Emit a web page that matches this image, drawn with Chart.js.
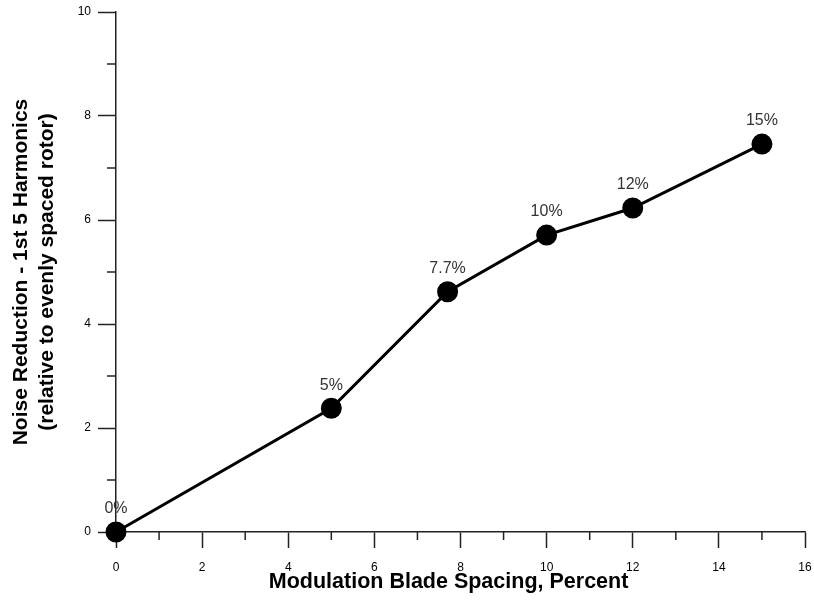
<!DOCTYPE html>
<html>
<head>
<meta charset="utf-8">
<script src="https://cdn.jsdelivr.net/npm/chart.js@4/dist/chart.umd.min.js"></script>
<style>
html,body{margin:0;padding:0;background:#fff;}
canvas{display:block;}
</style>
</head>
<body>
<canvas id="c" width="814" height="601"></canvas>
<script>
// Data
const spacingPercent = [0, 5, 7.7, 10, 12, 15];
const noiseReduction = [0, 2.38, 4.62, 5.71, 6.23, 7.46];
const pointLabels = ['0%', '5%', '7.7%', '10%', '12%', '15%'];
const minorXTicks = [1, 3, 5, 7, 9, 11, 13, 15];
const minorYTicks = [1, 3, 5, 7, 9];
const xTitle = 'Modulation Blade Spacing, Percent';
const yTitle = ['Noise Reduction - 1st 5 Harmonics', '(relative to evenly spaced rotor)'];

const FONT = "'Liberation Sans', Arial, Helvetica, sans-serif";
const AXIS_COLOR = '#222';

const minorTicksPlugin = {
  id: 'minorTicks',
  afterDraw(chart) {
    const {ctx, scales: {x, y}} = chart;
    ctx.save();
    ctx.strokeStyle = AXIS_COLOR;
    ctx.lineWidth = 1.5;
    ctx.beginPath();
    minorXTicks.forEach(v => {
      const px = x.getPixelForValue(v);
      ctx.moveTo(px, x.top);
      ctx.lineTo(px, x.top + 8);
    });
    minorYTicks.forEach(v => {
      const py = y.getPixelForValue(v);
      ctx.moveTo(y.right, py);
      ctx.lineTo(y.right - 9, py);
    });
    ctx.stroke();
    ctx.restore();
  }
};

const pointLabelPlugin = {
  id: 'pointLabels',
  afterDatasetsDraw(chart) {
    const {ctx} = chart;
    const meta = chart.getDatasetMeta(0);
    ctx.save();
    ctx.font = '16px ' + FONT;
    ctx.fillStyle = '#333';
    ctx.textAlign = 'center';
    ctx.textBaseline = 'middle';
    meta.data.forEach((pt, i) => {
      ctx.fillText(pointLabels[i], pt.x, pt.y - 23);
    });
    ctx.restore();
  }
};

new Chart(document.getElementById('c'), {
  type: 'scatter',
  data: {
    datasets: [{
      data: spacingPercent.map((v, i) => ({x: v, y: noiseReduction[i]})),
      showLine: true,
      borderColor: '#000',
      borderWidth: 3,
      backgroundColor: '#000',
      pointBackgroundColor: '#000',
      pointBorderColor: '#000',
      pointRadius: 9,
      pointHoverRadius: 9,
      clip: false
    }]
  },
  options: {
    responsive: false,
    devicePixelRatio: 1,
    animation: false,
    events: [],
    layout: {autoPadding: false, padding: {left: 0, right: 9, top: 12, bottom: 0}},
    plugins: {legend: {display: false}, tooltip: {enabled: false}},
    scales: {
      x: {
        type: 'linear',
        min: 0, max: 16,
        afterFit(scale) { scale.height = 69; scale.paddingRight = 0; scale.paddingLeft = 0; },
        ticks: {stepSize: 2, color: '#000', font: {family: FONT, size: 12}, padding: 12},
        grid: {display: true, drawOnChartArea: false, drawTicks: true, tickLength: 16, tickColor: AXIS_COLOR, tickWidth: 1.5},
        border: {display: true, color: AXIS_COLOR, width: 1.5},
        title: {display: true, text: xTitle + '\u00a0\u00a0\u00a0\u00a0', color: '#000', font: {family: FONT, size: 21.5, weight: 'bold', lineHeight: 1.2}, padding: {top: 0, bottom: 6}}
      },
      y: {
        type: 'linear',
        min: 0, max: 10,
        afterFit(scale) { scale.width = 116; scale.paddingTop = 0; scale.paddingBottom = 0; },
        ticks: {stepSize: 2, color: '#000', font: {family: FONT, size: 12}, padding: 7},
        grid: {display: true, drawOnChartArea: false, drawTicks: true, tickLength: 18, tickColor: AXIS_COLOR, tickWidth: 1.5},
        border: {display: true, color: AXIS_COLOR, width: 1.5},
        title: {display: true, text: yTitle, color: '#000', font: {family: FONT, size: 21, weight: 'bold', lineHeight: 1.24}, padding: {top: 8, bottom: 0}}
      }
    }
  },
  plugins: [minorTicksPlugin, pointLabelPlugin]
});
</script>
</body>
</html>
